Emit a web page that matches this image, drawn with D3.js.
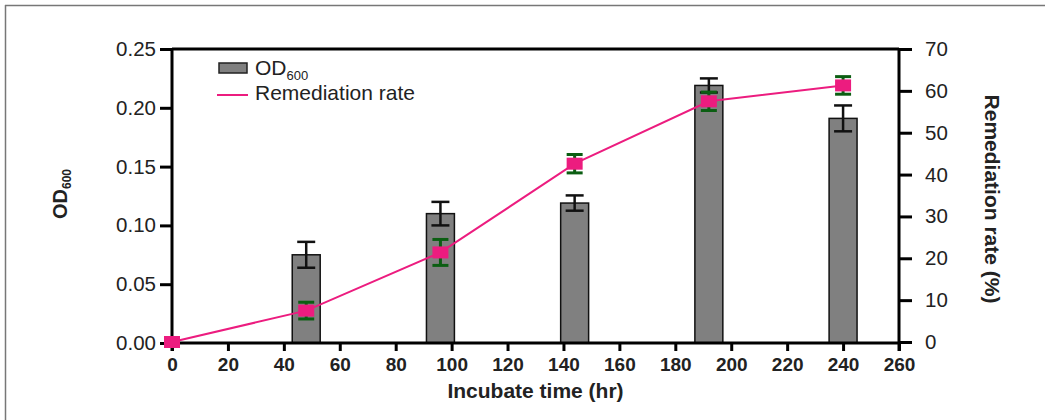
<!DOCTYPE html>
<html>
<head>
<meta charset="utf-8">
<script src="https://cdn.jsdelivr.net/npm/d3@7"></script>
<style>
  body { margin: 0; background: #fff; }
  svg { display: block; font-family: "Liberation Sans", Arial, sans-serif; }
</style>
</head>
<body>
<div id="chart"></div>
<script>
// data
const times = [48, 96, 144, 192, 240];
const odValues = [0.075, 0.110, 0.119, 0.219, 0.191];
const odErrors = [0.011, 0.010, 0.0065, 0.006, 0.011];

const rateTimes = [0, 48, 96, 144, 192, 240];
const rateValues = [0, 7.5, 21.4, 42.6, 57.5, 61.3];
const rateErrors = [0, 2.0, 3.1, 2.2, 2.2, 2.1];

const xTicks = [0, 20, 40, 60, 80, 100, 120, 140, 160, 180, 200, 220, 240, 260];
const leftTicks = [0, 0.05, 0.10, 0.15, 0.20, 0.25];
const rightTicks = [0, 10, 20, 30, 40, 50, 60, 70];

const width = 1045, height = 420;
const plotLeft = 172, plotRight = 899, plotTop = 49, plotBottom = 343;

const svg = d3.select("#chart").append("svg")
  .attr("width", width)
  .attr("height", height);

// outer frame (only top & left visible in the original)
svg.append("line").attr("x1", 5).attr("x2", width).attr("y1", 5.5).attr("y2", 5.5)
  .attr("stroke", "#777").attr("stroke-width", 1.5);
svg.append("line").attr("x1", 5.5).attr("x2", 5.5).attr("y1", 5).attr("y2", height)
  .attr("stroke", "#777").attr("stroke-width", 1.5);

const x = d3.scaleLinear().domain([0, 260]).range([plotLeft, plotRight]);
const yL = d3.scaleLinear().domain([0, 0.25]).range([plotBottom, plotTop]);
const yR = d3.scaleLinear().domain([0, 70]).range([plotBottom - 1, plotTop]);

const textColor = "#222";
const font = "Liberation Sans, Arial, sans-serif";

// bars
const barW = x(10) - x(0);
svg.append("g").selectAll("rect")
  .data(times)
  .enter().append("rect")
  .attr("x", (d) => x(d) - barW / 2)
  .attr("width", barW)
  .attr("y", (d, i) => yL(odValues[i]))
  .attr("height", (d, i) => yL(0) - yL(odValues[i]))
  .attr("fill", "#808080")
  .attr("stroke", "#111")
  .attr("stroke-width", 1.5);

// bar error bars
const be = svg.append("g").attr("stroke", "#111").attr("stroke-width", 2.5);
times.forEach((t, i) => {
  const cx = x(t);
  const y1 = yL(odValues[i] + odErrors[i]), y2 = yL(odValues[i] - odErrors[i]);
  be.append("line").attr("x1", cx).attr("x2", cx).attr("y1", y1).attr("y2", y2);
  be.append("line").attr("x1", cx - 9).attr("x2", cx + 9).attr("y1", y1).attr("y2", y1);
  be.append("line").attr("x1", cx - 9).attr("x2", cx + 9).attr("y1", y2).attr("y2", y2);
});

// axes
const axisG = svg.append("g").attr("stroke", "#000").attr("stroke-width", 3);
axisG.append("line").attr("x1", plotLeft).attr("x2", plotLeft).attr("y1", plotTop).attr("y2", plotBottom + 8);
axisG.append("line").attr("x1", plotRight).attr("x2", plotRight).attr("y1", plotTop).attr("y2", plotBottom + 8);
axisG.append("line").attr("x1", plotLeft).attr("x2", plotRight).attr("y1", plotBottom).attr("y2", plotBottom);
axisG.append("line").attr("x1", plotLeft).attr("x2", plotRight).attr("y1", plotTop).attr("y2", plotTop);

const xAxis = d3.axisBottom(x).tickValues(xTicks).tickFormat(d3.format("d")).tickSize(8).tickPadding(7);
const gx = svg.append("g").attr("transform", `translate(0,${plotBottom})`).call(xAxis);
gx.select(".domain").remove();
gx.selectAll(".tick line").attr("stroke", "#000").attr("stroke-width", 3);
gx.selectAll(".tick text").attr("font-size", 19).attr("font-weight", "bold")
  .attr("fill", textColor).attr("font-family", font);

const yAxisL = d3.axisLeft(yL).tickValues(leftTicks).tickFormat(d3.format(".2f")).tickSize(12).tickPadding(4);
const gyl = svg.append("g").attr("transform", `translate(${plotLeft},0)`).call(yAxisL);
gyl.select(".domain").remove();
gyl.selectAll(".tick line").attr("stroke", "#000").attr("stroke-width", 3);
gyl.selectAll(".tick text").attr("font-size", 20.5).attr("fill", textColor)
  .attr("font-family", font);

const yAxisR = d3.axisRight(yR).tickValues(rightTicks).tickSize(13).tickPadding(13);
const gyr = svg.append("g").attr("transform", `translate(${plotRight},0)`).call(yAxisR);
gyr.select(".domain").remove();
gyr.selectAll(".tick line").attr("stroke", "#000").attr("stroke-width", 3);
gyr.selectAll(".tick text").attr("font-size", 20.5).attr("fill", textColor)
  .attr("font-family", font);

// remediation line
const pink = "#ec1c7f";
svg.append("path")
  .datum(rateTimes)
  .attr("fill", "none")
  .attr("stroke", pink)
  .attr("stroke-width", 2)
  .attr("d", d3.line().x((d) => x(d)).y((d, i) => yR(rateValues[i])));

// green error bars
const ge = svg.append("g").attr("stroke", "#0b5e12").attr("stroke-width", 3);
rateTimes.forEach((t, i) => {
  if (!rateErrors[i]) return;
  const cx = x(t);
  const y1 = yR(rateValues[i] + rateErrors[i]), y2 = yR(rateValues[i] - rateErrors[i]);
  ge.append("line").attr("x1", cx).attr("x2", cx).attr("y1", y1).attr("y2", y2);
  ge.append("line").attr("x1", cx - 8).attr("x2", cx + 8).attr("y1", y1).attr("y2", y1);
  ge.append("line").attr("x1", cx - 8).attr("x2", cx + 8).attr("y1", y2).attr("y2", y2);
});

// square markers
svg.append("g").selectAll("rect")
  .data(rateTimes)
  .enter().append("rect")
  .attr("x", (d) => x(d) - 8)
  .attr("y", (d, i) => yR(rateValues[i]) - 6)
  .attr("width", 16)
  .attr("height", 12)
  .attr("fill", pink);

// axis titles
svg.append("text")
  .attr("x", (plotLeft + plotRight) / 2)
  .attr("y", 398)
  .attr("text-anchor", "middle")
  .attr("font-size", 21)
  .attr("font-weight", "bold")
  .attr("fill", textColor)
  .text("Incubate time (hr)");

const odTitle = svg.append("text")
  .attr("transform", "translate(67,194) rotate(-90)")
  .attr("text-anchor", "middle")
  .attr("font-size", 20)
  .attr("font-weight", "bold")
  .attr("fill", textColor);
odTitle.append("tspan").text("OD");
odTitle.append("tspan").attr("font-size", 12).attr("dy", 4).text("600");

svg.append("text")
  .attr("transform", "translate(985,199) rotate(90)")
  .attr("text-anchor", "middle")
  .attr("font-size", 21)
  .attr("font-weight", "bold")
  .attr("fill", textColor)
  .text("Remediation rate (%)");

// legend
svg.append("rect")
  .attr("x", 219).attr("y", 63).attr("width", 28).attr("height", 10)
  .attr("fill", "#808080").attr("stroke", "#222").attr("stroke-width", 1.5);
const legOd = svg.append("text")
  .attr("x", 255).attr("y", 75)
  .attr("font-size", 21).attr("fill", textColor);
legOd.append("tspan").text("OD");
legOd.append("tspan").attr("font-size", 13).attr("dy", 5).text("600");

svg.append("line")
  .attr("x1", 217).attr("x2", 248).attr("y1", 95).attr("y2", 95)
  .attr("stroke", pink).attr("stroke-width", 2);
svg.append("text")
  .attr("x", 255).attr("y", 100)
  .attr("font-size", 21).attr("fill", textColor)
  .text("Remediation rate");
</script>
</body>
</html>
